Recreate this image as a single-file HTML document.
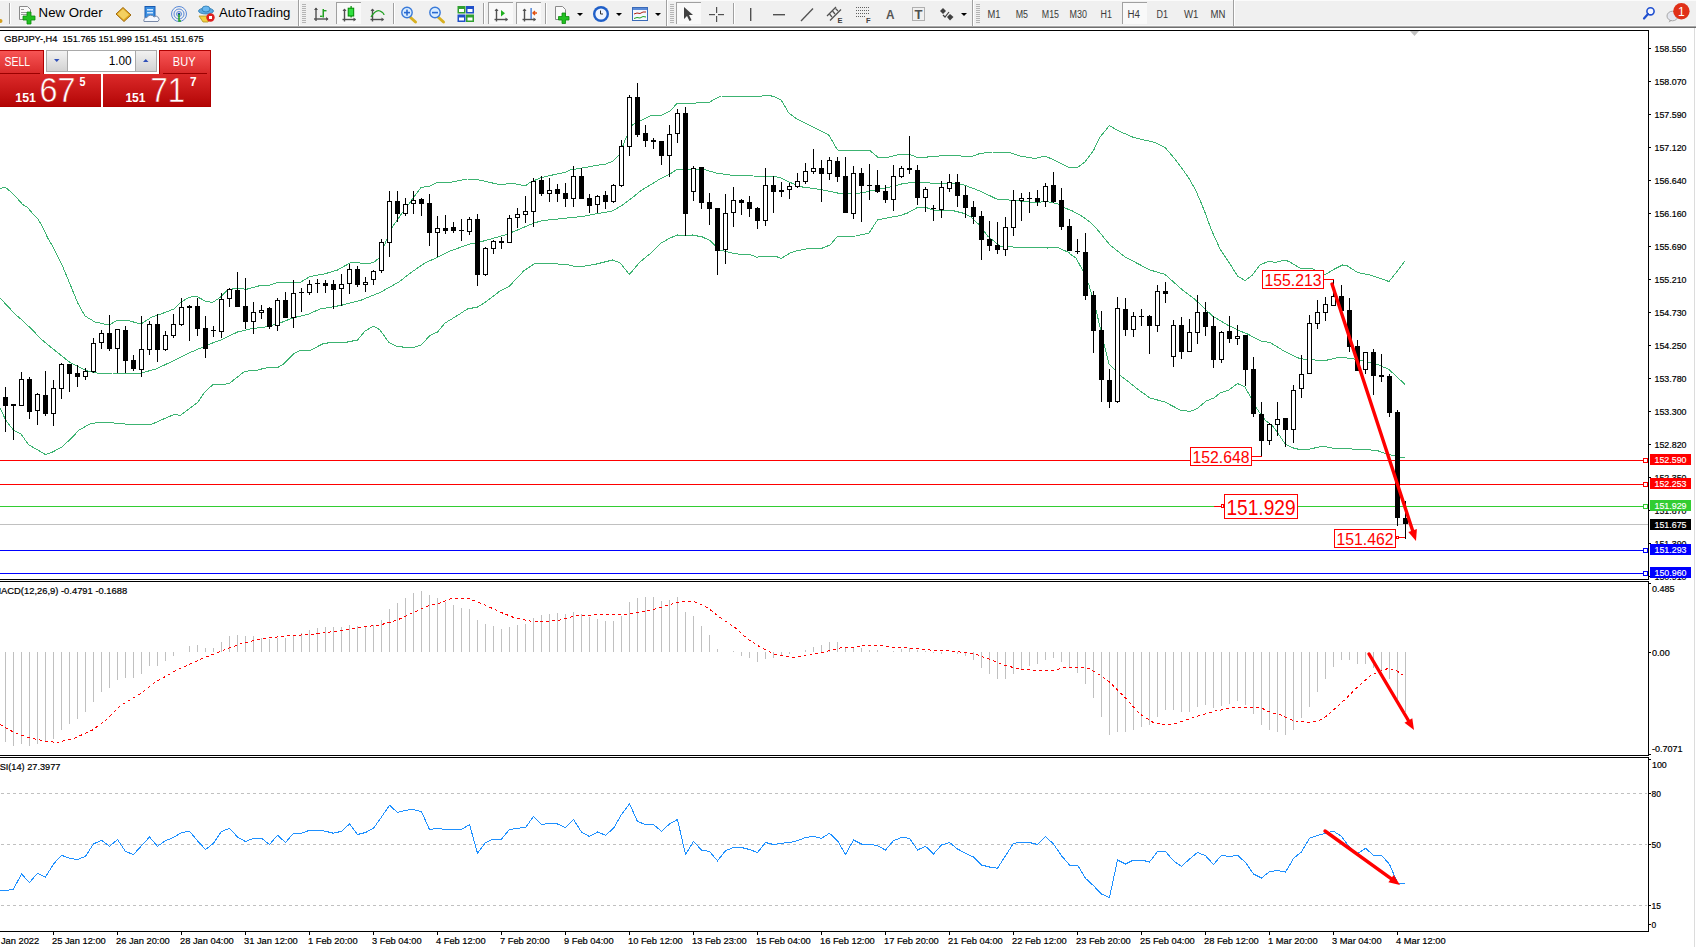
<!DOCTYPE html>
<html><head><meta charset="utf-8"><title>GBPJPY H4</title>
<style>
html,body{margin:0;padding:0;background:#fff;}
body{width:1696px;height:947px;overflow:hidden;}
svg{display:block;}
text{font-family:"Liberation Sans",sans-serif;}
</style></head><body>
<svg width="1696" height="947" viewBox="0 0 1696 947">
<rect x="0" y="0" width="1696" height="947" fill="#ffffff"/>
<rect x="0" y="0" width="1696" height="26" fill="#f0f0f0"/>
<rect x="0" y="0" width="1696" height="1" fill="#fbfbfb"/>
<rect x="0" y="26" width="1696" height="1" fill="#a8a8a8"/>
<rect x="0" y="27" width="1696" height="1" fill="#6e6e6e"/>
<rect x="1694" y="28" width="1" height="919" fill="#dcdcdc"/>
<rect x="0" y="25" width="1694" height="1" fill="#f7f7f7"/>
<rect x="0" y="30" width="1649" height="1" fill="#000"/>
<rect x="0" y="579" width="1649" height="1" fill="#000"/>
<rect x="1648" y="30" width="1" height="550" fill="#000"/>
<rect x="0" y="581" width="1649" height="1" fill="#000"/>
<rect x="0" y="755" width="1649" height="1" fill="#000"/>
<rect x="1648" y="581" width="1" height="175" fill="#000"/>
<rect x="0" y="757" width="1649" height="1" fill="#000"/>
<rect x="0" y="931" width="1649" height="1" fill="#000"/>
<rect x="1648" y="757" width="1" height="175" fill="#000"/>
<rect x="0" y="524" width="1648" height="1" fill="#c0c0c0"/>
<rect x="0" y="460" width="1643" height="1" fill="#ff0000"/>
<rect x="1643.5" y="458.5" width="4" height="4" fill="#fff" stroke="#ff0000" stroke-width="1"/>
<rect x="0" y="484" width="1643" height="1" fill="#ff0000"/>
<rect x="1643.5" y="482.5" width="4" height="4" fill="#fff" stroke="#ff0000" stroke-width="1"/>
<rect x="0" y="506" width="1643" height="1" fill="#32cd32"/>
<rect x="1643.5" y="504.5" width="4" height="4" fill="#fff" stroke="#32cd32" stroke-width="1"/>
<rect x="0" y="550" width="1643" height="1" fill="#0000ff"/>
<rect x="1643.5" y="548.5" width="4" height="4" fill="#fff" stroke="#0000ff" stroke-width="1"/>
<rect x="0" y="573" width="1643" height="1" fill="#0000ff"/>
<rect x="1643.5" y="571.5" width="4" height="4" fill="#fff" stroke="#0000ff" stroke-width="1"/>
<polyline points="0.00,188.50 5.00,187.00 9.40,190.60 17.00,198.00 22.50,204.40 27.50,207.50 33.00,214.00 38.00,219.00 42.50,227.00 47.50,237.50 52.50,246.00 62.50,266.00 70.00,284.00 77.50,302.50 85.00,316.00 95.00,322.00 109.00,325.00 117.50,320.00 126.00,320.00 141.00,324.00 151.00,317.50 161.00,314.00 174.00,309.00 181.00,302.00 189.00,297.50 196.00,296.00 205.00,301.00 212.50,302.50 220.00,297.50 227.50,290.00 237.50,288.00 246.00,289.40 260.00,285.60 270.00,285.00 277.50,282.50 287.50,283.00 300.00,282.50 310.00,276.50 325.00,273.75 337.50,270.00 350.00,263.00 357.50,262.50 365.00,264.00 373.75,262.50 380.00,257.00 384.00,246.00 392.00,227.50 402.50,212.50 412.50,199.00 421.00,187.50 430.00,186.00 436.00,183.00 449.00,182.50 467.50,179.00 472.50,179.00 482.50,180.60 492.50,183.00 499.00,184.40 514.00,183.50 525.00,186.00 530.00,182.50 540.00,178.00 555.00,174.40 565.00,172.50 570.00,170.00 582.50,168.00 595.00,165.60 606.00,164.00 613.00,161.00 620.00,154.00 625.00,140.00 632.50,125.00 640.00,121.00 650.00,116.00 661.00,115.40 670.00,111.00 677.50,103.00 696.00,103.00 710.00,102.00 717.50,97.50 721.00,96.00 740.00,96.50 760.00,96.50 765.00,95.00 770.00,95.60 775.00,97.00 781.00,99.75 788.75,113.00 797.50,119.40 815.00,128.00 828.75,135.00 837.50,150.00 850.00,151.00 865.00,150.00 870.00,150.60 877.50,157.00 888.75,157.00 900.00,154.40 910.00,154.40 916.00,157.00 927.50,157.00 945.00,155.50 952.00,155.00 970.00,157.00 980.00,153.50 992.50,152.00 1007.50,152.00 1020.00,156.00 1035.00,158.50 1045.00,156.00 1052.50,159.40 1060.00,163.00 1068.75,167.50 1077.50,167.50 1085.00,162.00 1093.75,150.00 1100.00,137.00 1109.40,125.60 1118.75,131.00 1133.75,137.50 1155.00,142.50 1165.00,147.50 1175.00,159.00 1182.50,169.00 1190.00,180.00 1196.00,191.00 1201.00,202.50 1206.00,215.00 1211.00,229.00 1220.00,249.00 1230.00,264.00 1237.50,276.00 1245.00,280.60 1252.50,275.00 1260.00,265.00 1269.00,261.00 1275.00,262.50 1285.00,260.00 1290.00,262.00 1301.00,268.75 1309.00,268.00 1314.00,269.40 1325.00,274.75 1335.00,268.75 1342.50,265.00 1347.50,266.00 1357.50,272.50 1370.00,275.00 1377.50,277.50 1389.00,281.50 1397.50,271.00 1405.00,261.00" fill="none" stroke="#3cb371" stroke-width="1" shape-rendering="crispEdges"/>
<polyline points="0.00,298.00 16.00,315.00 22.00,320.00 32.50,330.00 41.00,339.00 50.00,346.50 70.00,362.50 87.50,371.00 99.00,373.50 112.50,373.00 131.00,373.00 141.00,373.00 156.00,369.00 175.00,360.00 190.00,352.60 203.00,347.00 212.50,343.00 221.00,340.00 237.50,332.00 250.00,329.00 265.00,327.00 277.50,324.00 292.50,318.00 308.75,314.00 320.00,309.00 332.50,307.00 342.50,305.00 360.00,300.60 380.00,292.50 399.00,282.00 411.00,272.50 425.00,263.00 436.00,258.00 450.00,251.00 470.00,244.00 480.00,242.00 505.00,235.00 517.50,230.00 534.00,223.00 542.50,220.60 567.50,218.00 582.50,216.50 595.00,214.00 612.50,211.00 622.50,205.00 632.50,197.50 641.00,190.60 660.00,179.00 670.00,174.00 677.50,169.00 702.50,169.00 716.00,173.00 730.00,175.00 740.00,175.00 752.50,176.00 772.50,176.25 780.00,177.50 790.00,182.50 802.50,187.00 820.00,189.40 837.50,193.00 860.00,193.00 866.00,192.00 877.50,189.40 890.00,187.00 902.50,183.75 915.00,182.00 930.00,183.00 952.00,183.00 962.50,184.40 980.00,191.00 997.50,199.40 1009.00,200.00 1025.00,201.50 1037.50,203.00 1045.00,201.00 1060.00,204.40 1063.75,207.50 1072.50,211.00 1081.00,215.60 1090.00,222.00 1095.60,227.50 1110.00,245.00 1125.00,257.00 1150.00,270.00 1165.00,274.40 1182.50,290.00 1195.00,299.40 1212.50,316.00 1227.50,325.00 1240.00,331.00 1247.50,334.00 1261.00,341.00 1270.00,342.50 1284.00,351.00 1300.00,358.75 1315.00,360.00 1327.50,360.00 1340.00,357.00 1352.50,358.75 1365.00,361.50 1377.50,364.40 1389.00,369.50 1396.00,376.00 1405.00,384.40" fill="none" stroke="#3cb371" stroke-width="1" shape-rendering="crispEdges"/>
<polyline points="0.00,408.00 5.70,420.00 13.30,430.00 21.00,434.00 28.50,444.60 36.00,449.00 45.60,454.60 53.00,451.80 62.00,447.00 73.00,436.60 79.00,430.00 90.00,424.00 98.00,422.30 106.00,422.30 125.00,424.00 150.00,425.00 175.00,414.00 180.00,415.60 197.50,402.50 200.00,399.00 204.30,392.50 209.50,387.70 213.30,384.40 224.40,384.40 229.60,383.30 235.40,378.60 243.80,372.10 249.70,370.40 256.80,370.40 263.30,368.50 267.80,367.60 277.50,367.60 284.00,363.70 293.80,353.60 301.00,350.00 309.00,351.00 322.50,344.00 330.00,342.50 345.00,342.50 357.50,340.00 365.00,331.00 373.75,326.00 380.00,330.00 389.00,342.50 396.00,346.00 402.50,347.00 415.00,347.00 421.00,345.00 430.00,335.60 437.50,332.00 445.00,323.00 455.00,317.00 467.50,309.00 477.50,307.00 485.00,302.50 500.00,291.00 509.00,286.50 524.00,270.60 534.00,264.00 546.00,263.50 567.50,264.40 572.50,266.00 582.50,266.50 595.00,264.40 612.50,260.00 620.00,262.75 629.40,274.40 640.00,262.00 650.00,253.75 660.00,243.75 670.00,238.00 677.50,235.00 685.00,236.00 692.50,235.00 702.50,237.00 710.00,240.60 715.00,245.60 720.00,250.00 731.00,252.75 740.00,254.40 750.00,254.40 757.00,257.50 761.00,256.00 775.00,256.00 781.00,258.50 791.00,252.50 796.00,251.00 811.00,248.00 822.50,248.00 830.00,245.00 837.50,236.50 856.00,236.00 869.00,233.00 877.50,220.00 884.00,218.50 900.00,215.60 907.50,213.00 917.50,207.50 925.00,207.00 932.50,210.00 952.00,210.40 962.50,213.00 971.00,217.00 980.00,225.60 987.50,236.00 1000.00,246.00 1012.50,247.00 1032.50,247.50 1047.50,248.00 1057.50,247.50 1069.00,252.50 1070.00,254.00 1076.00,258.00 1082.50,270.00 1089.00,285.00 1096.00,310.00 1101.00,331.00 1104.00,344.00 1109.00,364.00 1115.00,370.00 1121.00,376.00 1127.50,381.00 1137.50,389.00 1150.00,398.00 1165.00,402.00 1180.00,410.00 1190.00,411.50 1197.50,408.50 1206.00,401.00 1214.00,398.00 1220.00,393.00 1229.00,390.00 1237.50,383.50 1245.00,387.00 1250.00,396.00 1256.00,407.50 1265.00,420.00 1272.50,426.00 1277.50,432.50 1285.00,443.75 1292.50,447.75 1299.00,449.40 1310.00,449.00 1322.50,446.25 1335.00,448.50 1365.00,449.40 1377.50,450.60 1386.00,453.75 1395.00,456.00 1405.00,458.00" fill="none" stroke="#3cb371" stroke-width="1" shape-rendering="crispEdges"/>
<g fill="#000" shape-rendering="crispEdges"><rect x="5" y="387" width="1" height="45"/><rect x="3" y="397" width="5" height="9"/><rect x="13" y="404" width="1" height="36"/><rect x="11" y="404" width="5" height="2"/><rect x="21" y="372" width="1" height="34"/><rect x="19" y="379" width="5" height="27"/><rect x="20" y="380" width="3" height="25" fill="#fff"/><rect x="29" y="377" width="1" height="42"/><rect x="27" y="379" width="5" height="33"/><rect x="37" y="393" width="1" height="32"/><rect x="35" y="394" width="5" height="17"/><rect x="36" y="395" width="3" height="15" fill="#fff"/><rect x="45" y="371" width="1" height="45"/><rect x="43" y="395" width="5" height="19"/><rect x="53" y="380" width="1" height="46"/><rect x="51" y="388" width="5" height="26"/><rect x="52" y="389" width="3" height="24" fill="#fff"/><rect x="61" y="363" width="1" height="36"/><rect x="59" y="364" width="5" height="25"/><rect x="60" y="365" width="3" height="23" fill="#fff"/><rect x="69" y="364" width="1" height="28"/><rect x="67" y="364" width="5" height="10"/><rect x="77" y="365" width="1" height="22"/><rect x="75" y="373" width="5" height="4"/><rect x="85" y="368" width="1" height="12"/><rect x="83" y="371" width="5" height="6"/><rect x="84" y="372" width="3" height="4" fill="#fff"/><rect x="93" y="338" width="1" height="35"/><rect x="91" y="343" width="5" height="29"/><rect x="92" y="344" width="3" height="27" fill="#fff"/><rect x="101" y="330" width="1" height="19"/><rect x="99" y="333" width="5" height="10"/><rect x="100" y="334" width="3" height="8" fill="#fff"/><rect x="109" y="315" width="1" height="36"/><rect x="107" y="333" width="5" height="16"/><rect x="117" y="329" width="1" height="44"/><rect x="115" y="329" width="5" height="20"/><rect x="116" y="330" width="3" height="18" fill="#fff"/><rect x="125" y="326" width="1" height="47"/><rect x="123" y="330" width="5" height="31"/><rect x="133" y="355" width="1" height="16"/><rect x="131" y="360" width="5" height="9"/><rect x="141" y="316" width="1" height="61"/><rect x="139" y="349" width="5" height="21"/><rect x="140" y="350" width="3" height="19" fill="#fff"/><rect x="149" y="321" width="1" height="34"/><rect x="147" y="324" width="5" height="26"/><rect x="148" y="325" width="3" height="24" fill="#fff"/><rect x="157" y="314" width="1" height="48"/><rect x="155" y="324" width="5" height="26"/><rect x="165" y="331" width="1" height="20"/><rect x="163" y="335" width="5" height="15"/><rect x="164" y="336" width="3" height="13" fill="#fff"/><rect x="173" y="314" width="1" height="24"/><rect x="171" y="324" width="5" height="12"/><rect x="172" y="325" width="3" height="10" fill="#fff"/><rect x="181" y="298" width="1" height="28"/><rect x="179" y="307" width="5" height="18"/><rect x="180" y="308" width="3" height="16" fill="#fff"/><rect x="189" y="305" width="1" height="36"/><rect x="187" y="306" width="5" height="2"/><rect x="197" y="298" width="1" height="38"/><rect x="195" y="306" width="5" height="23"/><rect x="205" y="316" width="1" height="42"/><rect x="203" y="328" width="5" height="21"/><rect x="213" y="326" width="1" height="11"/><rect x="211" y="330" width="5" height="1"/><rect x="221" y="293" width="1" height="45"/><rect x="219" y="299" width="5" height="33"/><rect x="220" y="300" width="3" height="31" fill="#fff"/><rect x="229" y="288" width="1" height="19"/><rect x="227" y="289" width="5" height="10"/><rect x="228" y="290" width="3" height="8" fill="#fff"/><rect x="237" y="272" width="1" height="35"/><rect x="235" y="290" width="5" height="17"/><rect x="245" y="278" width="1" height="51"/><rect x="243" y="306" width="5" height="16"/><rect x="253" y="302" width="1" height="32"/><rect x="251" y="312" width="5" height="10"/><rect x="252" y="313" width="3" height="8" fill="#fff"/><rect x="261" y="305" width="1" height="14"/><rect x="259" y="310" width="5" height="3"/><rect x="260" y="311" width="3" height="1" fill="#fff"/><rect x="269" y="307" width="1" height="22"/><rect x="267" y="308" width="5" height="19"/><rect x="277" y="298" width="1" height="33"/><rect x="275" y="300" width="5" height="26"/><rect x="276" y="301" width="3" height="24" fill="#fff"/><rect x="285" y="292" width="1" height="26"/><rect x="283" y="300" width="5" height="18"/><rect x="293" y="280" width="1" height="48"/><rect x="291" y="293" width="5" height="25"/><rect x="292" y="294" width="3" height="23" fill="#fff"/><rect x="301" y="288" width="1" height="24"/><rect x="299" y="292" width="5" height="1"/><rect x="309" y="280" width="1" height="15"/><rect x="307" y="284" width="5" height="9"/><rect x="308" y="285" width="3" height="7" fill="#fff"/><rect x="317" y="279" width="1" height="14"/><rect x="315" y="283" width="5" height="1"/><rect x="325" y="280" width="1" height="13"/><rect x="323" y="283" width="5" height="3"/><rect x="333" y="280" width="1" height="29"/><rect x="331" y="284" width="5" height="6"/><rect x="341" y="274" width="1" height="32"/><rect x="339" y="284" width="5" height="5"/><rect x="340" y="285" width="3" height="3" fill="#fff"/><rect x="349" y="264" width="1" height="30"/><rect x="347" y="269" width="5" height="15"/><rect x="348" y="270" width="3" height="13" fill="#fff"/><rect x="357" y="266" width="1" height="21"/><rect x="355" y="269" width="5" height="16"/><rect x="365" y="277" width="1" height="15"/><rect x="363" y="282" width="5" height="3"/><rect x="364" y="283" width="3" height="1" fill="#fff"/><rect x="373" y="270" width="1" height="15"/><rect x="371" y="271" width="5" height="9"/><rect x="372" y="272" width="3" height="7" fill="#fff"/><rect x="381" y="239" width="1" height="34"/><rect x="379" y="242" width="5" height="29"/><rect x="380" y="243" width="3" height="27" fill="#fff"/><rect x="389" y="191" width="1" height="66"/><rect x="387" y="201" width="5" height="42"/><rect x="388" y="202" width="3" height="40" fill="#fff"/><rect x="397" y="191" width="1" height="31"/><rect x="395" y="201" width="5" height="13"/><rect x="405" y="198" width="1" height="18"/><rect x="403" y="204" width="5" height="10"/><rect x="404" y="205" width="3" height="8" fill="#fff"/><rect x="413" y="191" width="1" height="23"/><rect x="411" y="200" width="5" height="4"/><rect x="412" y="201" width="3" height="2" fill="#fff"/><rect x="421" y="198" width="1" height="18"/><rect x="419" y="199" width="5" height="5"/><rect x="429" y="194" width="1" height="52"/><rect x="427" y="203" width="5" height="30"/><rect x="437" y="216" width="1" height="41"/><rect x="435" y="228" width="5" height="5"/><rect x="436" y="229" width="3" height="3" fill="#fff"/><rect x="445" y="215" width="1" height="19"/><rect x="443" y="228" width="5" height="3"/><rect x="453" y="222" width="1" height="11"/><rect x="451" y="227" width="5" height="4"/><rect x="461" y="219" width="1" height="22"/><rect x="459" y="230" width="5" height="1"/><rect x="469" y="217" width="1" height="18"/><rect x="467" y="219" width="5" height="13"/><rect x="468" y="220" width="3" height="11" fill="#fff"/><rect x="477" y="214" width="1" height="72"/><rect x="475" y="219" width="5" height="56"/><rect x="485" y="247" width="1" height="29"/><rect x="483" y="248" width="5" height="27"/><rect x="484" y="249" width="3" height="25" fill="#fff"/><rect x="493" y="240" width="1" height="14"/><rect x="491" y="241" width="5" height="8"/><rect x="492" y="242" width="3" height="6" fill="#fff"/><rect x="501" y="237" width="1" height="12"/><rect x="499" y="241" width="5" height="2"/><rect x="509" y="215" width="1" height="28"/><rect x="507" y="218" width="5" height="25"/><rect x="508" y="219" width="3" height="23" fill="#fff"/><rect x="517" y="208" width="1" height="20"/><rect x="515" y="214" width="5" height="4"/><rect x="516" y="215" width="3" height="2" fill="#fff"/><rect x="525" y="196" width="1" height="27"/><rect x="523" y="211" width="5" height="4"/><rect x="524" y="212" width="3" height="2" fill="#fff"/><rect x="533" y="178" width="1" height="49"/><rect x="531" y="181" width="5" height="31"/><rect x="532" y="182" width="3" height="29" fill="#fff"/><rect x="541" y="176" width="1" height="20"/><rect x="539" y="180" width="5" height="14"/><rect x="549" y="178" width="1" height="24"/><rect x="547" y="190" width="5" height="4"/><rect x="548" y="191" width="3" height="2" fill="#fff"/><rect x="557" y="184" width="1" height="18"/><rect x="555" y="189" width="5" height="5"/><rect x="565" y="183" width="1" height="24"/><rect x="563" y="193" width="5" height="6"/><rect x="573" y="166" width="1" height="41"/><rect x="571" y="176" width="5" height="23"/><rect x="572" y="177" width="3" height="21" fill="#fff"/><rect x="581" y="168" width="1" height="31"/><rect x="579" y="176" width="5" height="23"/><rect x="589" y="194" width="1" height="19"/><rect x="587" y="198" width="5" height="8"/><rect x="597" y="195" width="1" height="18"/><rect x="595" y="196" width="5" height="9"/><rect x="596" y="197" width="3" height="7" fill="#fff"/><rect x="605" y="191" width="1" height="18"/><rect x="603" y="195" width="5" height="7"/><rect x="613" y="184" width="1" height="19"/><rect x="611" y="185" width="5" height="17"/><rect x="612" y="186" width="3" height="15" fill="#fff"/><rect x="621" y="140" width="1" height="47"/><rect x="619" y="146" width="5" height="40"/><rect x="620" y="147" width="3" height="38" fill="#fff"/><rect x="629" y="95" width="1" height="61"/><rect x="627" y="97" width="5" height="50"/><rect x="628" y="98" width="3" height="48" fill="#fff"/><rect x="637" y="83" width="1" height="54"/><rect x="635" y="97" width="5" height="38"/><rect x="645" y="125" width="1" height="22"/><rect x="643" y="133" width="5" height="8"/><rect x="653" y="138" width="1" height="11"/><rect x="651" y="140" width="5" height="2"/><rect x="661" y="141" width="1" height="24"/><rect x="659" y="141" width="5" height="15"/><rect x="669" y="125" width="1" height="52"/><rect x="667" y="134" width="5" height="22"/><rect x="668" y="135" width="3" height="20" fill="#fff"/><rect x="677" y="109" width="1" height="34"/><rect x="675" y="113" width="5" height="21"/><rect x="676" y="114" width="3" height="19" fill="#fff"/><rect x="685" y="107" width="1" height="129"/><rect x="683" y="113" width="5" height="101"/><rect x="693" y="166" width="1" height="35"/><rect x="691" y="168" width="5" height="24"/><rect x="692" y="169" width="3" height="22" fill="#fff"/><rect x="701" y="167" width="1" height="42"/><rect x="699" y="167" width="5" height="36"/><rect x="709" y="193" width="1" height="32"/><rect x="707" y="202" width="5" height="7"/><rect x="717" y="208" width="1" height="67"/><rect x="715" y="208" width="5" height="43"/><rect x="725" y="194" width="1" height="70"/><rect x="723" y="213" width="5" height="37"/><rect x="724" y="214" width="3" height="35" fill="#fff"/><rect x="733" y="187" width="1" height="40"/><rect x="731" y="200" width="5" height="13"/><rect x="732" y="201" width="3" height="11" fill="#fff"/><rect x="741" y="199" width="1" height="16"/><rect x="739" y="200" width="5" height="3"/><rect x="749" y="196" width="1" height="21"/><rect x="747" y="202" width="5" height="7"/><rect x="757" y="207" width="1" height="22"/><rect x="755" y="208" width="5" height="13"/><rect x="765" y="168" width="1" height="58"/><rect x="763" y="185" width="5" height="36"/><rect x="764" y="186" width="3" height="34" fill="#fff"/><rect x="773" y="176" width="1" height="37"/><rect x="771" y="185" width="5" height="7"/><rect x="781" y="182" width="1" height="15"/><rect x="779" y="190" width="5" height="2"/><rect x="789" y="183" width="1" height="16"/><rect x="787" y="186" width="5" height="4"/><rect x="788" y="187" width="3" height="2" fill="#fff"/><rect x="797" y="173" width="1" height="15"/><rect x="795" y="181" width="5" height="6"/><rect x="796" y="182" width="3" height="4" fill="#fff"/><rect x="805" y="163" width="1" height="21"/><rect x="803" y="171" width="5" height="11"/><rect x="804" y="172" width="3" height="9" fill="#fff"/><rect x="813" y="149" width="1" height="25"/><rect x="811" y="168" width="5" height="4"/><rect x="812" y="169" width="3" height="2" fill="#fff"/><rect x="821" y="160" width="1" height="42"/><rect x="819" y="168" width="5" height="6"/><rect x="829" y="157" width="1" height="23"/><rect x="827" y="160" width="5" height="14"/><rect x="828" y="161" width="3" height="12" fill="#fff"/><rect x="837" y="157" width="1" height="25"/><rect x="835" y="161" width="5" height="16"/><rect x="845" y="157" width="1" height="56"/><rect x="843" y="176" width="5" height="37"/><rect x="853" y="166" width="1" height="53"/><rect x="851" y="173" width="5" height="41"/><rect x="852" y="174" width="3" height="39" fill="#fff"/><rect x="861" y="168" width="1" height="54"/><rect x="859" y="173" width="5" height="13"/><rect x="869" y="164" width="1" height="36"/><rect x="867" y="185" width="5" height="1"/><rect x="877" y="170" width="1" height="23"/><rect x="875" y="185" width="5" height="7"/><rect x="885" y="185" width="1" height="18"/><rect x="883" y="191" width="5" height="9"/><rect x="893" y="165" width="1" height="46"/><rect x="891" y="176" width="5" height="24"/><rect x="892" y="177" width="3" height="22" fill="#fff"/><rect x="901" y="166" width="1" height="12"/><rect x="899" y="168" width="5" height="9"/><rect x="900" y="169" width="3" height="7" fill="#fff"/><rect x="909" y="136" width="1" height="38"/><rect x="907" y="168" width="5" height="2"/><rect x="917" y="165" width="1" height="40"/><rect x="915" y="170" width="5" height="28"/><rect x="925" y="187" width="1" height="25"/><rect x="923" y="189" width="5" height="9"/><rect x="924" y="190" width="3" height="7" fill="#fff"/><rect x="933" y="205" width="1" height="16"/><rect x="931" y="208" width="5" height="1"/><rect x="941" y="181" width="1" height="37"/><rect x="939" y="187" width="5" height="23"/><rect x="940" y="188" width="3" height="21" fill="#fff"/><rect x="949" y="174" width="1" height="18"/><rect x="947" y="182" width="5" height="7"/><rect x="948" y="183" width="3" height="5" fill="#fff"/><rect x="957" y="174" width="1" height="33"/><rect x="955" y="182" width="5" height="14"/><rect x="965" y="186" width="1" height="32"/><rect x="963" y="195" width="5" height="13"/><rect x="973" y="201" width="1" height="23"/><rect x="971" y="207" width="5" height="10"/><rect x="981" y="211" width="1" height="49"/><rect x="979" y="216" width="5" height="24"/><rect x="989" y="221" width="1" height="30"/><rect x="987" y="239" width="5" height="7"/><rect x="997" y="222" width="1" height="32"/><rect x="995" y="245" width="5" height="5"/><rect x="1005" y="217" width="1" height="39"/><rect x="1003" y="227" width="5" height="23"/><rect x="1004" y="228" width="3" height="21" fill="#fff"/><rect x="1013" y="190" width="1" height="46"/><rect x="1011" y="200" width="5" height="28"/><rect x="1012" y="201" width="3" height="26" fill="#fff"/><rect x="1021" y="193" width="1" height="28"/><rect x="1019" y="198" width="5" height="3"/><rect x="1020" y="199" width="3" height="1" fill="#fff"/><rect x="1029" y="192" width="1" height="21"/><rect x="1027" y="198" width="5" height="1"/><rect x="1037" y="190" width="1" height="16"/><rect x="1035" y="198" width="5" height="4"/><rect x="1045" y="183" width="1" height="24"/><rect x="1043" y="186" width="5" height="16"/><rect x="1044" y="187" width="3" height="14" fill="#fff"/><rect x="1053" y="172" width="1" height="31"/><rect x="1051" y="185" width="5" height="17"/><rect x="1061" y="188" width="1" height="42"/><rect x="1059" y="200" width="5" height="27"/><rect x="1069" y="219" width="1" height="32"/><rect x="1067" y="226" width="5" height="25"/><rect x="1077" y="239" width="1" height="15"/><rect x="1075" y="251" width="5" height="1"/><rect x="1085" y="233" width="1" height="67"/><rect x="1083" y="252" width="5" height="44"/><rect x="1093" y="291" width="1" height="62"/><rect x="1091" y="295" width="5" height="36"/><rect x="1101" y="311" width="1" height="91"/><rect x="1099" y="330" width="5" height="50"/><rect x="1109" y="369" width="1" height="39"/><rect x="1107" y="380" width="5" height="22"/><rect x="1117" y="297" width="1" height="106"/><rect x="1115" y="308" width="5" height="94"/><rect x="1116" y="309" width="3" height="92" fill="#fff"/><rect x="1125" y="298" width="1" height="38"/><rect x="1123" y="309" width="5" height="21"/><rect x="1133" y="312" width="1" height="25"/><rect x="1131" y="316" width="5" height="14"/><rect x="1132" y="317" width="3" height="12" fill="#fff"/><rect x="1141" y="309" width="1" height="17"/><rect x="1139" y="316" width="5" height="1"/><rect x="1149" y="315" width="1" height="39"/><rect x="1147" y="316" width="5" height="10"/><rect x="1157" y="285" width="1" height="47"/><rect x="1155" y="291" width="5" height="35"/><rect x="1156" y="292" width="3" height="33" fill="#fff"/><rect x="1165" y="282" width="1" height="21"/><rect x="1163" y="291" width="5" height="3"/><rect x="1173" y="320" width="1" height="47"/><rect x="1171" y="325" width="5" height="32"/><rect x="1172" y="326" width="3" height="30" fill="#fff"/><rect x="1181" y="317" width="1" height="42"/><rect x="1179" y="325" width="5" height="27"/><rect x="1189" y="319" width="1" height="33"/><rect x="1187" y="332" width="5" height="20"/><rect x="1188" y="333" width="3" height="18" fill="#fff"/><rect x="1197" y="295" width="1" height="49"/><rect x="1195" y="312" width="5" height="21"/><rect x="1196" y="313" width="3" height="19" fill="#fff"/><rect x="1205" y="302" width="1" height="34"/><rect x="1203" y="312" width="5" height="15"/><rect x="1213" y="316" width="1" height="52"/><rect x="1211" y="326" width="5" height="34"/><rect x="1221" y="331" width="1" height="32"/><rect x="1219" y="332" width="5" height="28"/><rect x="1220" y="333" width="3" height="26" fill="#fff"/><rect x="1229" y="316" width="1" height="27"/><rect x="1227" y="331" width="5" height="8"/><rect x="1237" y="325" width="1" height="20"/><rect x="1235" y="336" width="5" height="3"/><rect x="1236" y="337" width="3" height="1" fill="#fff"/><rect x="1245" y="335" width="1" height="51"/><rect x="1243" y="335" width="5" height="35"/><rect x="1253" y="357" width="1" height="60"/><rect x="1251" y="369" width="5" height="45"/><rect x="1261" y="402" width="1" height="54"/><rect x="1259" y="414" width="5" height="27"/><rect x="1269" y="423" width="1" height="22"/><rect x="1267" y="424" width="5" height="17"/><rect x="1268" y="425" width="3" height="15" fill="#fff"/><rect x="1277" y="402" width="1" height="34"/><rect x="1275" y="419" width="5" height="6"/><rect x="1276" y="420" width="3" height="4" fill="#fff"/><rect x="1285" y="418" width="1" height="29"/><rect x="1283" y="418" width="5" height="12"/><rect x="1293" y="385" width="1" height="58"/><rect x="1291" y="390" width="5" height="40"/><rect x="1292" y="391" width="3" height="38" fill="#fff"/><rect x="1301" y="355" width="1" height="43"/><rect x="1299" y="374" width="5" height="15"/><rect x="1300" y="375" width="3" height="13" fill="#fff"/><rect x="1309" y="315" width="1" height="59"/><rect x="1307" y="323" width="5" height="51"/><rect x="1308" y="324" width="3" height="49" fill="#fff"/><rect x="1317" y="300" width="1" height="29"/><rect x="1315" y="312" width="5" height="12"/><rect x="1316" y="313" width="3" height="10" fill="#fff"/><rect x="1325" y="297" width="1" height="24"/><rect x="1323" y="304" width="5" height="9"/><rect x="1324" y="305" width="3" height="7" fill="#fff"/><rect x="1333" y="279" width="1" height="27"/><rect x="1331" y="296" width="5" height="10"/><rect x="1332" y="297" width="3" height="8" fill="#fff"/><rect x="1341" y="285" width="1" height="26"/><rect x="1339" y="296" width="5" height="15"/><rect x="1349" y="298" width="1" height="54"/><rect x="1347" y="310" width="5" height="37"/><rect x="1357" y="340" width="1" height="31"/><rect x="1355" y="346" width="5" height="25"/><rect x="1365" y="352" width="1" height="22"/><rect x="1363" y="352" width="5" height="18"/><rect x="1364" y="353" width="3" height="16" fill="#fff"/><rect x="1373" y="349" width="1" height="46"/><rect x="1371" y="352" width="5" height="24"/><rect x="1381" y="354" width="1" height="28"/><rect x="1379" y="375" width="5" height="2"/><rect x="1389" y="374" width="1" height="43"/><rect x="1387" y="376" width="5" height="37"/><rect x="1397" y="410" width="1" height="116"/><rect x="1395" y="412" width="5" height="106"/><rect x="1405" y="501" width="1" height="38"/><rect x="1403" y="518" width="5" height="6"/></g>
<g fill="#c0c0c0" shape-rendering="crispEdges"><rect x="5" y="652" width="1" height="90"/><rect x="13" y="652" width="1" height="94"/><rect x="21" y="652" width="1" height="92"/><rect x="29" y="652" width="1" height="94"/><rect x="37" y="652" width="1" height="92"/><rect x="45" y="652" width="1" height="90"/><rect x="53" y="652" width="1" height="87"/><rect x="61" y="652" width="1" height="78"/><rect x="69" y="652" width="1" height="72"/><rect x="77" y="652" width="1" height="67"/><rect x="85" y="652" width="1" height="60"/><rect x="93" y="652" width="1" height="50"/><rect x="101" y="652" width="1" height="40"/><rect x="109" y="652" width="1" height="36"/><rect x="117" y="652" width="1" height="28"/><rect x="125" y="652" width="1" height="26"/><rect x="133" y="652" width="1" height="26"/><rect x="141" y="652" width="1" height="22"/><rect x="149" y="652" width="1" height="14"/><rect x="157" y="652" width="1" height="14"/><rect x="165" y="652" width="1" height="9"/><rect x="173" y="652" width="1" height="4"/><rect x="189" y="646" width="1" height="6"/><rect x="197" y="645" width="1" height="7"/><rect x="205" y="648" width="1" height="4"/><rect x="213" y="648" width="1" height="4"/><rect x="221" y="642" width="1" height="10"/><rect x="229" y="636" width="1" height="16"/><rect x="237" y="635" width="1" height="17"/><rect x="245" y="636" width="1" height="16"/><rect x="253" y="636" width="1" height="16"/><rect x="261" y="638" width="1" height="14"/><rect x="269" y="639" width="1" height="13"/><rect x="277" y="638" width="1" height="14"/><rect x="285" y="638" width="1" height="14"/><rect x="293" y="635" width="1" height="17"/><rect x="301" y="633" width="1" height="19"/><rect x="309" y="630" width="1" height="22"/><rect x="317" y="628" width="1" height="24"/><rect x="325" y="627" width="1" height="25"/><rect x="333" y="627" width="1" height="25"/><rect x="341" y="627" width="1" height="25"/><rect x="349" y="625" width="1" height="27"/><rect x="357" y="626" width="1" height="26"/><rect x="365" y="626" width="1" height="26"/><rect x="373" y="625" width="1" height="27"/><rect x="381" y="620" width="1" height="32"/><rect x="389" y="609" width="1" height="43"/><rect x="397" y="603" width="1" height="49"/><rect x="405" y="598" width="1" height="54"/><rect x="413" y="593" width="1" height="59"/><rect x="421" y="591" width="1" height="61"/><rect x="429" y="595" width="1" height="57"/><rect x="437" y="598" width="1" height="54"/><rect x="445" y="602" width="1" height="50"/><rect x="453" y="605" width="1" height="47"/><rect x="461" y="608" width="1" height="44"/><rect x="469" y="609" width="1" height="43"/><rect x="477" y="620" width="1" height="32"/><rect x="485" y="624" width="1" height="28"/><rect x="493" y="626" width="1" height="26"/><rect x="501" y="629" width="1" height="23"/><rect x="509" y="627" width="1" height="25"/><rect x="517" y="625" width="1" height="27"/><rect x="525" y="624" width="1" height="28"/><rect x="533" y="618" width="1" height="34"/><rect x="541" y="615" width="1" height="37"/><rect x="549" y="614" width="1" height="38"/><rect x="557" y="613" width="1" height="39"/><rect x="565" y="614" width="1" height="38"/><rect x="573" y="612" width="1" height="40"/><rect x="581" y="614" width="1" height="38"/><rect x="589" y="617" width="1" height="35"/><rect x="597" y="619" width="1" height="33"/><rect x="605" y="621" width="1" height="31"/><rect x="613" y="621" width="1" height="31"/><rect x="621" y="616" width="1" height="36"/><rect x="629" y="602" width="1" height="50"/><rect x="637" y="598" width="1" height="54"/><rect x="645" y="597" width="1" height="55"/><rect x="653" y="597" width="1" height="55"/><rect x="661" y="601" width="1" height="51"/><rect x="669" y="600" width="1" height="52"/><rect x="677" y="597" width="1" height="55"/><rect x="685" y="612" width="1" height="40"/><rect x="693" y="616" width="1" height="36"/><rect x="701" y="626" width="1" height="26"/><rect x="709" y="635" width="1" height="17"/><rect x="717" y="649" width="1" height="3"/><rect x="733" y="651" width="1" height="1"/><rect x="741" y="652" width="1" height="4"/><rect x="749" y="652" width="1" height="6"/><rect x="757" y="652" width="1" height="10"/><rect x="765" y="652" width="1" height="7"/><rect x="773" y="652" width="1" height="6"/><rect x="781" y="652" width="1" height="4"/><rect x="789" y="652" width="1" height="2"/><rect x="805" y="650" width="1" height="2"/><rect x="813" y="647" width="1" height="5"/><rect x="821" y="645" width="1" height="7"/><rect x="829" y="642" width="1" height="10"/><rect x="837" y="642" width="1" height="10"/><rect x="845" y="648" width="1" height="4"/><rect x="853" y="648" width="1" height="4"/><rect x="861" y="648" width="1" height="4"/><rect x="869" y="650" width="1" height="2"/><rect x="877" y="650" width="1" height="2"/><rect x="893" y="651" width="1" height="1"/><rect x="901" y="649" width="1" height="3"/><rect x="909" y="648" width="1" height="4"/><rect x="917" y="650" width="1" height="2"/><rect x="925" y="651" width="1" height="1"/><rect x="933" y="652" width="1" height="1"/><rect x="941" y="652" width="1" height="2"/><rect x="957" y="652" width="1" height="2"/><rect x="965" y="652" width="1" height="4"/><rect x="973" y="652" width="1" height="8"/><rect x="981" y="652" width="1" height="16"/><rect x="989" y="652" width="1" height="22"/><rect x="997" y="652" width="1" height="27"/><rect x="1005" y="652" width="1" height="27"/><rect x="1013" y="652" width="1" height="22"/><rect x="1021" y="652" width="1" height="17"/><rect x="1029" y="652" width="1" height="14"/><rect x="1037" y="652" width="1" height="12"/><rect x="1045" y="652" width="1" height="8"/><rect x="1053" y="652" width="1" height="6"/><rect x="1061" y="652" width="1" height="10"/><rect x="1069" y="652" width="1" height="15"/><rect x="1077" y="652" width="1" height="21"/><rect x="1085" y="652" width="1" height="32"/><rect x="1093" y="652" width="1" height="46"/><rect x="1101" y="652" width="1" height="65"/><rect x="1109" y="652" width="1" height="83"/><rect x="1117" y="652" width="1" height="80"/><rect x="1125" y="652" width="1" height="80"/><rect x="1133" y="652" width="1" height="78"/><rect x="1141" y="652" width="1" height="75"/><rect x="1149" y="652" width="1" height="73"/><rect x="1157" y="652" width="1" height="65"/><rect x="1165" y="652" width="1" height="58"/><rect x="1173" y="652" width="1" height="58"/><rect x="1181" y="652" width="1" height="60"/><rect x="1189" y="652" width="1" height="60"/><rect x="1197" y="652" width="1" height="55"/><rect x="1205" y="652" width="1" height="53"/><rect x="1213" y="652" width="1" height="56"/><rect x="1221" y="652" width="1" height="54"/><rect x="1229" y="652" width="1" height="52"/><rect x="1237" y="652" width="1" height="49"/><rect x="1245" y="652" width="1" height="53"/><rect x="1253" y="652" width="1" height="62"/><rect x="1261" y="652" width="1" height="73"/><rect x="1269" y="652" width="1" height="78"/><rect x="1277" y="652" width="1" height="80"/><rect x="1285" y="652" width="1" height="83"/><rect x="1293" y="652" width="1" height="78"/><rect x="1301" y="652" width="1" height="66"/><rect x="1309" y="652" width="1" height="55"/><rect x="1317" y="652" width="1" height="40"/><rect x="1325" y="652" width="1" height="27"/><rect x="1333" y="652" width="1" height="15"/><rect x="1341" y="652" width="1" height="8"/><rect x="1349" y="652" width="1" height="8"/><rect x="1357" y="652" width="1" height="12"/><rect x="1365" y="652" width="1" height="12"/><rect x="1373" y="652" width="1" height="16"/><rect x="1381" y="652" width="1" height="19"/><rect x="1389" y="652" width="1" height="27"/><rect x="1397" y="652" width="1" height="47"/><rect x="1405" y="652" width="1" height="60"/></g>
<polyline points="0.00,724.50 15.00,733.00 30.00,738.00 45.00,741.00 57.50,742.50 75.00,738.00 92.50,730.00 105.00,721.00 120.00,706.00 140.00,694.00 155.00,682.50 175.00,671.00 200.00,659.50 217.50,652.50 240.00,644.00 260.00,639.00 290.00,635.50 312.50,634.50 337.50,631.00 357.50,627.50 380.00,625.00 397.50,620.00 410.00,614.00 420.00,609.50 430.00,605.00 440.00,603.00 452.50,598.00 470.00,599.00 485.00,605.00 500.00,612.00 515.00,618.00 530.00,621.00 540.00,622.00 560.00,620.00 575.00,616.00 600.00,614.50 620.00,615.00 640.00,612.50 655.00,609.00 670.00,604.50 685.00,601.00 695.00,602.00 707.50,607.50 720.00,617.50 735.00,627.50 747.50,639.00 760.00,647.00 775.00,654.50 795.00,657.50 807.50,655.50 822.50,652.50 840.00,648.00 850.00,647.50 865.00,645.50 880.00,645.50 890.00,647.00 910.00,648.00 930.00,650.00 950.00,651.00 965.00,652.50 975.00,654.00 990.00,659.50 1005.00,665.50 1020.00,669.00 1040.00,671.00 1052.50,670.50 1065.00,667.50 1080.00,667.00 1090.00,669.00 1100.00,675.00 1110.00,682.50 1125.00,697.50 1140.00,714.00 1152.50,722.00 1165.00,725.00 1177.50,723.00 1195.00,717.00 1215.00,711.00 1235.00,707.50 1257.70,707.60 1262.40,708.40 1268.30,711.40 1275.40,713.70 1281.30,715.00 1287.20,717.90 1293.00,720.60 1301.30,721.70 1310.80,722.20 1317.80,721.40 1324.90,717.30 1334.30,709.20 1346.10,698.40 1358.00,686.60 1369.70,676.20 1378.00,671.90 1388.60,668.30 1395.70,670.30 1402.50,674.60" fill="none" stroke="#ff0000" stroke-width="1" stroke-dasharray="3 3" shape-rendering="crispEdges"/>
<line x1="1" y1="793.5" x2="1647" y2="793.5" stroke="#c0c0c0" stroke-width="1" stroke-dasharray="3 3"/>
<line x1="1" y1="844.5" x2="1647" y2="844.5" stroke="#c0c0c0" stroke-width="1" stroke-dasharray="3 3"/>
<line x1="1" y1="905.5" x2="1647" y2="905.5" stroke="#c0c0c0" stroke-width="1" stroke-dasharray="3 3"/>
<polyline points="-2.50,890.00 5.50,890.75 13.50,889.00 21.50,874.00 29.50,882.50 37.50,873.25 45.50,877.00 53.50,864.00 61.50,855.25 69.50,858.25 77.50,859.50 85.50,856.25 93.50,844.00 101.50,840.25 109.50,846.25 117.50,839.50 125.50,851.50 133.50,854.50 141.50,845.75 149.50,837.00 157.50,846.25 165.50,840.75 173.50,837.50 181.50,832.50 189.50,831.25 197.50,840.75 205.50,849.50 213.50,843.25 221.50,831.50 229.50,828.25 237.50,837.00 245.50,841.50 253.50,838.25 261.50,838.25 269.50,844.50 277.50,835.25 285.50,842.50 293.50,833.25 301.50,833.25 309.50,830.25 317.50,830.25 325.50,831.25 333.50,833.25 341.50,831.25 349.50,824.00 357.50,834.50 365.50,832.50 373.50,828.25 381.50,817.00 389.50,805.25 397.50,812.50 405.50,810.25 413.50,809.50 421.50,811.75 429.50,829.50 437.50,828.25 445.50,829.50 453.50,829.50 461.50,829.50 469.50,824.50 477.50,853.25 485.50,842.50 493.50,839.00 501.50,839.00 509.50,829.50 517.50,828.25 525.50,827.50 533.50,816.50 541.50,824.50 549.50,823.25 557.50,824.00 565.50,827.50 573.50,819.50 581.50,832.00 589.50,836.50 597.50,832.00 605.50,835.25 613.50,828.25 621.50,814.50 629.50,803.75 637.50,821.50 645.50,824.50 653.50,824.50 661.50,831.25 669.50,824.00 677.50,819.50 685.50,854.50 693.50,841.50 701.50,850.00 709.50,851.50 717.50,860.75 725.50,850.75 733.50,847.50 741.50,847.50 749.50,849.50 757.50,852.50 765.50,842.50 773.50,844.50 781.50,843.25 789.50,842.50 797.50,840.75 805.50,837.50 813.50,836.50 821.50,838.25 829.50,833.25 837.50,840.75 845.50,854.50 853.50,840.00 861.50,844.00 869.50,844.00 877.50,845.75 885.50,850.00 893.50,840.75 901.50,837.50 909.50,838.25 917.50,850.00 925.50,846.25 933.50,854.00 941.50,845.00 949.50,842.50 957.50,849.00 965.50,853.25 973.50,857.00 981.50,865.00 989.50,867.00 997.50,868.25 1005.50,855.75 1013.50,843.25 1021.50,842.50 1029.50,842.50 1037.50,844.50 1045.50,836.50 1053.50,844.00 1061.50,855.75 1069.50,865.00 1077.50,865.00 1085.50,878.25 1093.50,885.75 1101.50,894.00 1109.50,897.50 1117.50,860.00 1125.50,864.00 1133.50,860.00 1141.50,860.00 1149.50,862.00 1157.50,851.50 1165.50,851.50 1173.50,860.75 1181.50,866.50 1189.50,859.00 1197.50,852.50 1205.50,855.75 1213.50,864.50 1221.50,855.25 1229.50,856.50 1237.50,855.25 1245.50,862.50 1253.50,874.00 1261.50,878.00 1269.50,871.70 1277.50,870.50 1285.50,872.20 1293.50,858.40 1301.50,851.90 1309.50,838.30 1317.50,835.40 1325.50,833.30 1333.50,831.20 1341.50,836.30 1349.50,847.20 1357.50,853.70 1365.50,848.30 1373.50,855.20 1381.50,855.20 1389.50,864.30 1397.50,883.10 1405.50,883.50" fill="none" stroke="#1e90ff" stroke-width="1" shape-rendering="crispEdges"/>
<text x="4.3" y="42" font-size="9.4" fill="#000" stroke="#000" stroke-width="0.2" textLength="199.4" lengthAdjust="spacingAndGlyphs">GBPJPY-,H4&#160;&#160;151.765 151.999 151.451 151.675</text>
<text x="-6.8" y="594" font-size="9.4" fill="#000" stroke="#000" stroke-width="0.2" textLength="134" lengthAdjust="spacingAndGlyphs">MACD(12,26,9) -0.4791 -0.1688</text>
<text x="-7.0" y="770" font-size="9.4" fill="#000" stroke="#000" stroke-width="0.2" textLength="67.4" lengthAdjust="spacingAndGlyphs">RSI(14) 27.3977</text>
<rect x="1648" y="48" width="3" height="1" fill="#000"/>
<text x="1654.5" y="52" font-size="9.4" fill="#000" stroke="#000" stroke-width="0.2" textLength="32" lengthAdjust="spacingAndGlyphs">158.550</text>
<rect x="1648" y="81" width="3" height="1" fill="#000"/>
<text x="1654.5" y="85" font-size="9.4" fill="#000" stroke="#000" stroke-width="0.2" textLength="32" lengthAdjust="spacingAndGlyphs">158.070</text>
<rect x="1648" y="114" width="3" height="1" fill="#000"/>
<text x="1654.5" y="118" font-size="9.4" fill="#000" stroke="#000" stroke-width="0.2" textLength="32" lengthAdjust="spacingAndGlyphs">157.590</text>
<rect x="1648" y="147" width="3" height="1" fill="#000"/>
<text x="1654.5" y="151" font-size="9.4" fill="#000" stroke="#000" stroke-width="0.2" textLength="32" lengthAdjust="spacingAndGlyphs">157.120</text>
<rect x="1648" y="180" width="3" height="1" fill="#000"/>
<text x="1654.5" y="184" font-size="9.4" fill="#000" stroke="#000" stroke-width="0.2" textLength="32" lengthAdjust="spacingAndGlyphs">156.640</text>
<rect x="1648" y="213" width="3" height="1" fill="#000"/>
<text x="1654.5" y="217" font-size="9.4" fill="#000" stroke="#000" stroke-width="0.2" textLength="32" lengthAdjust="spacingAndGlyphs">156.160</text>
<rect x="1648" y="246" width="3" height="1" fill="#000"/>
<text x="1654.5" y="250" font-size="9.4" fill="#000" stroke="#000" stroke-width="0.2" textLength="32" lengthAdjust="spacingAndGlyphs">155.690</text>
<rect x="1648" y="279" width="3" height="1" fill="#000"/>
<text x="1654.5" y="283" font-size="9.4" fill="#000" stroke="#000" stroke-width="0.2" textLength="32" lengthAdjust="spacingAndGlyphs">155.210</text>
<rect x="1648" y="312" width="3" height="1" fill="#000"/>
<text x="1654.5" y="316" font-size="9.4" fill="#000" stroke="#000" stroke-width="0.2" textLength="32" lengthAdjust="spacingAndGlyphs">154.730</text>
<rect x="1648" y="345" width="3" height="1" fill="#000"/>
<text x="1654.5" y="349" font-size="9.4" fill="#000" stroke="#000" stroke-width="0.2" textLength="32" lengthAdjust="spacingAndGlyphs">154.250</text>
<rect x="1648" y="378" width="3" height="1" fill="#000"/>
<text x="1654.5" y="382" font-size="9.4" fill="#000" stroke="#000" stroke-width="0.2" textLength="32" lengthAdjust="spacingAndGlyphs">153.780</text>
<rect x="1648" y="411" width="3" height="1" fill="#000"/>
<text x="1654.5" y="415" font-size="9.4" fill="#000" stroke="#000" stroke-width="0.2" textLength="32" lengthAdjust="spacingAndGlyphs">153.300</text>
<rect x="1648" y="444" width="3" height="1" fill="#000"/>
<text x="1654.5" y="448" font-size="9.4" fill="#000" stroke="#000" stroke-width="0.2" textLength="32" lengthAdjust="spacingAndGlyphs">152.820</text>
<rect x="1648" y="477" width="3" height="1" fill="#000"/>
<text x="1654.5" y="481" font-size="9.4" fill="#000" stroke="#000" stroke-width="0.2" textLength="32" lengthAdjust="spacingAndGlyphs">152.350</text>
<rect x="1648" y="510" width="3" height="1" fill="#000"/>
<text x="1654.5" y="514" font-size="9.4" fill="#000" stroke="#000" stroke-width="0.2" textLength="32" lengthAdjust="spacingAndGlyphs">151.870</text>
<rect x="1648" y="543" width="3" height="1" fill="#000"/>
<text x="1654.5" y="547" font-size="9.4" fill="#000" stroke="#000" stroke-width="0.2" textLength="32" lengthAdjust="spacingAndGlyphs">151.390</text>
<rect x="1648" y="576" width="3" height="1" fill="#000"/>
<text x="1654.5" y="580" font-size="9.4" fill="#000" stroke="#000" stroke-width="0.2" textLength="32" lengthAdjust="spacingAndGlyphs">150.910</text>
<rect x="1650" y="454" width="41" height="11" fill="#ff0000"/>
<text x="1654.5" y="463" font-size="9.4" fill="#fff" stroke="#fff" stroke-width="0.15" textLength="32" lengthAdjust="spacingAndGlyphs">152.590</text>
<rect x="1650" y="478" width="41" height="11" fill="#ff0000"/>
<text x="1654.5" y="487" font-size="9.4" fill="#fff" stroke="#fff" stroke-width="0.15" textLength="32" lengthAdjust="spacingAndGlyphs">152.253</text>
<rect x="1650" y="500" width="41" height="11" fill="#32cd32"/>
<text x="1654.5" y="509" font-size="9.4" fill="#fff" stroke="#fff" stroke-width="0.15" textLength="32" lengthAdjust="spacingAndGlyphs">151.929</text>
<rect x="1650" y="519" width="41" height="11" fill="#000000"/>
<text x="1654.5" y="528" font-size="9.4" fill="#fff" stroke="#fff" stroke-width="0.15" textLength="32" lengthAdjust="spacingAndGlyphs">151.675</text>
<rect x="1650" y="544" width="41" height="11" fill="#0000ff"/>
<text x="1654.5" y="553" font-size="9.4" fill="#fff" stroke="#fff" stroke-width="0.15" textLength="32" lengthAdjust="spacingAndGlyphs">151.293</text>
<rect x="1650" y="567" width="41" height="11" fill="#0000ff"/>
<text x="1654.5" y="576" font-size="9.4" fill="#fff" stroke="#fff" stroke-width="0.15" textLength="32" lengthAdjust="spacingAndGlyphs">150.960</text>
<rect x="1648" y="583" width="3" height="1" fill="#000"/>
<rect x="1648" y="652" width="3" height="1" fill="#000"/>
<rect x="1648" y="754" width="3" height="1" fill="#000"/>
<text x="1652" y="592" font-size="9.3" fill="#000" stroke="#000" stroke-width="0.2" textLength="22.6" lengthAdjust="spacingAndGlyphs">0.485</text>
<text x="1652" y="656" font-size="9.3" fill="#000" stroke="#000" stroke-width="0.2" textLength="17.7" lengthAdjust="spacingAndGlyphs">0.00</text>
<text x="1652" y="752" font-size="9.3" fill="#000" stroke="#000" stroke-width="0.2" textLength="30.6" lengthAdjust="spacingAndGlyphs">-0.7071</text>
<rect x="1648" y="759" width="3" height="1" fill="#000"/>
<rect x="1648" y="793" width="3" height="1" fill="#000"/>
<rect x="1648" y="844" width="3" height="1" fill="#000"/>
<rect x="1648" y="905" width="3" height="1" fill="#000"/>
<rect x="1648" y="924" width="3" height="1" fill="#000"/>
<text x="1652" y="768" font-size="9.3" fill="#000" stroke="#000" stroke-width="0.2" textLength="14.8" lengthAdjust="spacingAndGlyphs">100</text>
<text x="1651.5" y="797" font-size="9.3" fill="#000" stroke="#000" stroke-width="0.2" textLength="9.4" lengthAdjust="spacingAndGlyphs">80</text>
<text x="1651.5" y="848" font-size="9.3" fill="#000" stroke="#000" stroke-width="0.2" textLength="9.4" lengthAdjust="spacingAndGlyphs">50</text>
<text x="1651.5" y="908.5" font-size="9.3" fill="#000" stroke="#000" stroke-width="0.2" textLength="9.4" lengthAdjust="spacingAndGlyphs">15</text>
<text x="1651.5" y="928" font-size="9.3" fill="#000" stroke="#000" stroke-width="0.2" textLength="4.7" lengthAdjust="spacingAndGlyphs">0</text>
<text x="-12" y="944" font-size="9.3" fill="#000" stroke="#000" stroke-width="0.2" textLength="51.2" lengthAdjust="spacingAndGlyphs">24 Jan 2022</text>
<rect x="53" y="931" width="1" height="4" fill="#000"/>
<text x="52" y="944" font-size="9.3" fill="#000" stroke="#000" stroke-width="0.2" textLength="53.8" lengthAdjust="spacingAndGlyphs">25 Jan 12:00</text>
<rect x="117" y="931" width="1" height="4" fill="#000"/>
<text x="116" y="944" font-size="9.3" fill="#000" stroke="#000" stroke-width="0.2" textLength="53.8" lengthAdjust="spacingAndGlyphs">26 Jan 20:00</text>
<rect x="181" y="931" width="1" height="4" fill="#000"/>
<text x="180" y="944" font-size="9.3" fill="#000" stroke="#000" stroke-width="0.2" textLength="53.8" lengthAdjust="spacingAndGlyphs">28 Jan 04:00</text>
<rect x="245" y="931" width="1" height="4" fill="#000"/>
<text x="244" y="944" font-size="9.3" fill="#000" stroke="#000" stroke-width="0.2" textLength="53.8" lengthAdjust="spacingAndGlyphs">31 Jan 12:00</text>
<rect x="309" y="931" width="1" height="4" fill="#000"/>
<text x="308" y="944" font-size="9.3" fill="#000" stroke="#000" stroke-width="0.2" textLength="49.6" lengthAdjust="spacingAndGlyphs">1 Feb 20:00</text>
<rect x="373" y="931" width="1" height="4" fill="#000"/>
<text x="372" y="944" font-size="9.3" fill="#000" stroke="#000" stroke-width="0.2" textLength="49.6" lengthAdjust="spacingAndGlyphs">3 Feb 04:00</text>
<rect x="437" y="931" width="1" height="4" fill="#000"/>
<text x="436" y="944" font-size="9.3" fill="#000" stroke="#000" stroke-width="0.2" textLength="49.6" lengthAdjust="spacingAndGlyphs">4 Feb 12:00</text>
<rect x="501" y="931" width="1" height="4" fill="#000"/>
<text x="500" y="944" font-size="9.3" fill="#000" stroke="#000" stroke-width="0.2" textLength="49.6" lengthAdjust="spacingAndGlyphs">7 Feb 20:00</text>
<rect x="565" y="931" width="1" height="4" fill="#000"/>
<text x="564" y="944" font-size="9.3" fill="#000" stroke="#000" stroke-width="0.2" textLength="49.6" lengthAdjust="spacingAndGlyphs">9 Feb 04:00</text>
<rect x="629" y="931" width="1" height="4" fill="#000"/>
<text x="628" y="944" font-size="9.3" fill="#000" stroke="#000" stroke-width="0.2" textLength="54.8" lengthAdjust="spacingAndGlyphs">10 Feb 12:00</text>
<rect x="693" y="931" width="1" height="4" fill="#000"/>
<text x="692" y="944" font-size="9.3" fill="#000" stroke="#000" stroke-width="0.2" textLength="54.8" lengthAdjust="spacingAndGlyphs">13 Feb 23:00</text>
<rect x="757" y="931" width="1" height="4" fill="#000"/>
<text x="756" y="944" font-size="9.3" fill="#000" stroke="#000" stroke-width="0.2" textLength="54.8" lengthAdjust="spacingAndGlyphs">15 Feb 04:00</text>
<rect x="821" y="931" width="1" height="4" fill="#000"/>
<text x="820" y="944" font-size="9.3" fill="#000" stroke="#000" stroke-width="0.2" textLength="54.8" lengthAdjust="spacingAndGlyphs">16 Feb 12:00</text>
<rect x="885" y="931" width="1" height="4" fill="#000"/>
<text x="884" y="944" font-size="9.3" fill="#000" stroke="#000" stroke-width="0.2" textLength="54.8" lengthAdjust="spacingAndGlyphs">17 Feb 20:00</text>
<rect x="949" y="931" width="1" height="4" fill="#000"/>
<text x="948" y="944" font-size="9.3" fill="#000" stroke="#000" stroke-width="0.2" textLength="54.8" lengthAdjust="spacingAndGlyphs">21 Feb 04:00</text>
<rect x="1013" y="931" width="1" height="4" fill="#000"/>
<text x="1012" y="944" font-size="9.3" fill="#000" stroke="#000" stroke-width="0.2" textLength="54.8" lengthAdjust="spacingAndGlyphs">22 Feb 12:00</text>
<rect x="1077" y="931" width="1" height="4" fill="#000"/>
<text x="1076" y="944" font-size="9.3" fill="#000" stroke="#000" stroke-width="0.2" textLength="54.8" lengthAdjust="spacingAndGlyphs">23 Feb 20:00</text>
<rect x="1141" y="931" width="1" height="4" fill="#000"/>
<text x="1140" y="944" font-size="9.3" fill="#000" stroke="#000" stroke-width="0.2" textLength="54.8" lengthAdjust="spacingAndGlyphs">25 Feb 04:00</text>
<rect x="1205" y="931" width="1" height="4" fill="#000"/>
<text x="1204" y="944" font-size="9.3" fill="#000" stroke="#000" stroke-width="0.2" textLength="54.8" lengthAdjust="spacingAndGlyphs">28 Feb 12:00</text>
<rect x="1269" y="931" width="1" height="4" fill="#000"/>
<text x="1268" y="944" font-size="9.3" fill="#000" stroke="#000" stroke-width="0.2" textLength="49.6" lengthAdjust="spacingAndGlyphs">1 Mar 20:00</text>
<rect x="1333" y="931" width="1" height="4" fill="#000"/>
<text x="1332" y="944" font-size="9.3" fill="#000" stroke="#000" stroke-width="0.2" textLength="49.6" lengthAdjust="spacingAndGlyphs">3 Mar 04:00</text>
<rect x="1397" y="931" width="1" height="4" fill="#000"/>
<text x="1396" y="944" font-size="9.3" fill="#000" stroke="#000" stroke-width="0.2" textLength="49.6" lengthAdjust="spacingAndGlyphs">4 Mar 12:00</text>
<rect x="1262.5" y="270.5" width="61" height="18" fill="#fff" stroke="#ff0000" stroke-width="1"/>
<text x="1264.5" y="286" font-size="16" fill="#ff0000" textLength="57" lengthAdjust="spacingAndGlyphs">155.213</text>
<rect x="1324" y="279" width="10" height="1" fill="#ff0000"/>
<rect x="1190.5" y="447.5" width="61" height="18" fill="#fff" stroke="#ff0000" stroke-width="1"/>
<text x="1192.5" y="463" font-size="16" fill="#ff0000" textLength="57" lengthAdjust="spacingAndGlyphs">152.648</text>
<rect x="1252" y="456" width="10" height="1" fill="#ff0000"/>
<rect x="1224.5" y="494.5" width="73" height="24" fill="#fff" stroke="#ff0000" stroke-width="1"/>
<text x="1226.5" y="515" font-size="22.3" fill="#ff0000" textLength="69" lengthAdjust="spacingAndGlyphs">151.929</text>
<rect x="1214" y="506" width="7" height="1" fill="#ff0000"/>
<rect x="1221.5" y="504.5" width="2" height="3" fill="#fff" stroke="#ff0000" stroke-width="1"/>
<rect x="1334.5" y="529.5" width="61" height="18" fill="#fff" stroke="#ff0000" stroke-width="1"/>
<text x="1336.5" y="545" font-size="16" fill="#ff0000" textLength="57" lengthAdjust="spacingAndGlyphs">151.462</text>
<rect x="1396.5" y="536.5" width="2" height="2" fill="#fff" stroke="#ff0000" stroke-width="1"/>
<rect x="1399" y="537" width="6" height="1" fill="#ff0000"/>
<line x1="1332" y1="284" x2="1412.6" y2="530.5" stroke="#ff0000" stroke-width="3.4" stroke-linecap="round"/>
<polygon points="1416,541 1408.3,531.9 1416.9,529.1" fill="#ff0000"/>
<line x1="1369" y1="654" x2="1408.4" y2="720.5" stroke="#ff0000" stroke-width="3.4" stroke-linecap="round"/>
<polygon points="1414,730 1404.5,722.8 1412.3,718.2" fill="#ff0000"/>
<line x1="1325" y1="831" x2="1391.1" y2="878.6" stroke="#ff0000" stroke-width="3.4" stroke-linecap="round"/>
<polygon points="1400,885 1388.4,882.2 1393.7,874.9" fill="#ff0000"/>
<polygon points="1410,31 1419,31 1414.5,36" fill="#c0c0c0"/>
<ellipse cx="0.5" cy="21" rx="2" ry="2" fill="#d4a020"/>
<rect x="9" y="3" width="1" height="21" fill="#a0a0a0"/><rect x="10" y="3" width="1" height="21" fill="#ffffff"/>
<path d="M19.5,6.5 h8 l3,3 v10 h-11 z" fill="#fafafa" stroke="#8a8a8a" stroke-width="1"/>
<g fill="#9a9a9a"><rect x="21" y="9" width="3" height="1"/><rect x="21" y="12" width="6" height="1"/><rect x="21" y="14" width="6" height="1"/></g>
<path d="M27,12 h4 v4 h4 v4 h-4 v4 h-4 v-4 h-4 v-4 h4 z" fill="#22c022" stroke="#0a8a0a" stroke-width="0.8"/>
<text x="38.6" y="17" font-size="13" fill="#000" textLength="64" lengthAdjust="spacingAndGlyphs">New Order</text>
<path d="M116,14 L123,7.5 L131,15 L124,21.5 Z" fill="#e0a820" stroke="#a06a10" stroke-width="1"/>
<path d="M117.5,14 L123,9 L129,14.8 L123.5,19.5 Z" fill="#f4d060"/>
<rect x="145" y="6.5" width="10" height="11" fill="#3a8ee0" stroke="#1a5ab0" stroke-width="1"/>
<rect x="147" y="9" width="6" height="1.5" fill="#cfe6ff"/><rect x="147" y="12" width="6" height="1.5" fill="#cfe6ff"/>
<path d="M144,21.5 a3,3 0 0,1 3,-4 a4,4 0 0,1 7,-0.5 a3,3 0 0,1 4,4.5 z" fill="#f4f8ff" stroke="#7a8aa8" stroke-width="1"/>
<g fill="none" stroke="#5a8ad8" stroke-width="1"><circle cx="179" cy="14" r="7.5"/><circle cx="179" cy="14" r="5"/><circle cx="179" cy="14" r="2.5"/></g>
<circle cx="179" cy="14" r="1.3" fill="#1a4ab0"/><path d="M179,14 v7 h2" stroke="#20a020" stroke-width="1.5" fill="none"/>
<path d="M199,16 L213,16 L208,22 L203,22 Z" fill="#f0d040" stroke="#b09020" stroke-width="0.8"/>
<ellipse cx="206" cy="11" rx="7.5" ry="3" fill="#5aa8e0" stroke="#2a78b0" stroke-width="0.8"/><ellipse cx="206" cy="9" rx="4" ry="3" fill="#6ab8f0" stroke="#2a78b0" stroke-width="0.8"/>
<circle cx="210.5" cy="17.5" r="4.2" fill="#dd2020"/><rect x="209" y="16" width="3" height="3" fill="#fff"/>
<text x="219" y="17" font-size="13" fill="#000" textLength="71.4" lengthAdjust="spacingAndGlyphs">AutoTrading</text>
<rect x="298" y="0" width="1" height="26" fill="#a0a0a0"/><rect x="299" y="0" width="1" height="26" fill="#ffffff"/>
<g fill="#b4b4b4"><rect x="302" y="4" width="4" height="1"/><rect x="302" y="6" width="4" height="1"/><rect x="302" y="8" width="4" height="1"/><rect x="302" y="10" width="4" height="1"/><rect x="302" y="12" width="4" height="1"/><rect x="302" y="14" width="4" height="1"/><rect x="302" y="16" width="4" height="1"/><rect x="302" y="18" width="4" height="1"/><rect x="302" y="20" width="4" height="1"/><rect x="302" y="22" width="4" height="1"/></g>
<g stroke="#505050" stroke-width="1.4" fill="none"><line x1="316" y1="8" x2="316" y2="21"/><line x1="314" y1="19" x2="328" y2="19"/></g>
<polygon points="314,10 318,10 316,7.5" fill="#505050"/>
<polygon points="326,17 326,21 328.5,19" fill="#505050"/>
<g fill="#20a020"><rect x="322.5" y="9" width="1.5" height="8.5"/><rect x="324" y="10" width="2.5" height="1.4"/><rect x="320" y="15.6" width="2.5" height="1.4"/></g>
<rect x="336" y="2" width="25" height="22" fill="#f9f9f9"/>
<rect x="336" y="2" width="25" height="1" fill="#a0a0a0"/><rect x="336" y="2" width="1" height="22" fill="#a0a0a0"/>
<g stroke="#505050" stroke-width="1.4" fill="none"><line x1="344.5" y1="9" x2="344.5" y2="21.5"/><line x1="342.5" y1="19.5" x2="355.5" y2="19.5"/></g>
<polygon points="342.5,11 346.5,11 344.5,8.5" fill="#505050"/>
<polygon points="353.5,17.5 353.5,21.5 356.0,19.5" fill="#505050"/>
<rect x="350.5" y="6" width="1.2" height="11.5" fill="#008a00"/><rect x="348.2" y="8.2" width="5.5" height="7.8" fill="#30e040" stroke="#008a00" stroke-width="1"/>
<g stroke="#505050" stroke-width="1.4" fill="none"><line x1="372.5" y1="9" x2="372.5" y2="21.5"/><line x1="370.5" y1="19.5" x2="383.5" y2="19.5"/></g>
<polygon points="370.5,11 374.5,11 372.5,8.5" fill="#505050"/>
<polygon points="381.5,17.5 381.5,21.5 384.0,19.5" fill="#505050"/>
<path d="M371,17 Q376,9 380,11 T384,15" fill="none" stroke="#20a020" stroke-width="1.3"/>
<rect x="393" y="3" width="1" height="21" fill="#a0a0a0"/><rect x="394" y="3" width="1" height="21" fill="#ffffff"/>
<line x1="410" y1="17" x2="415.5" y2="22" stroke="#d8b020" stroke-width="3" stroke-linecap="round" transform="translate(0,0)"/>
<circle cx="407" cy="12.5" r="5.2" fill="#d8ecff" stroke="#3a7ad8" stroke-width="1.4"/>
<rect x="404" y="11.8" width="6" height="1.6" fill="#2a6ad0"/>
<rect x="406.2" y="9.6" width="1.6" height="6" fill="#2a6ad0"/>
<line x1="438" y1="45" x2="443.5" y2="50" stroke="#d8b020" stroke-width="3" stroke-linecap="round" transform="translate(0,-28)"/>
<circle cx="435" cy="12.5" r="5.2" fill="#d8ecff" stroke="#3a7ad8" stroke-width="1.4"/>
<rect x="432" y="11.8" width="6" height="1.6" fill="#2a6ad0"/>
<rect x="457.5" y="6" width="8" height="7.5" fill="#30a030"/><rect x="466" y="6" width="8" height="7.5" fill="#2050c8"/><rect x="457.5" y="14.5" width="8" height="7.5" fill="#2050c8"/><rect x="466" y="14.5" width="8" height="7.5" fill="#30a030"/>
<g fill="#fff"><rect x="459" y="9" width="5" height="3"/><rect x="467.5" y="9" width="5" height="3"/><rect x="459" y="17.5" width="5" height="3"/><rect x="467.5" y="17.5" width="5" height="3"/></g>
<rect x="483" y="3" width="1" height="21" fill="#a0a0a0"/><rect x="484" y="3" width="1" height="21" fill="#ffffff"/>
<rect x="488" y="2" width="25" height="22" fill="#f9f9f9"/>
<rect x="488" y="2" width="25" height="1" fill="#a0a0a0"/><rect x="488" y="2" width="1" height="22" fill="#a0a0a0"/>
<g stroke="#505050" stroke-width="1.4" fill="none"><line x1="496.5" y1="9" x2="496.5" y2="21.5"/><line x1="494.5" y1="19.5" x2="507.5" y2="19.5"/></g>
<polygon points="494.5,11 498.5,11 496.5,8.5" fill="#505050"/>
<polygon points="505.5,17.5 505.5,21.5 508.0,19.5" fill="#505050"/>
<polygon points="501,10 501,16.5 505,13.25" fill="#20b020"/>
<rect x="516" y="2" width="25" height="22" fill="#f9f9f9"/>
<rect x="516" y="2" width="25" height="1" fill="#a0a0a0"/><rect x="516" y="2" width="1" height="22" fill="#a0a0a0"/>
<g stroke="#505050" stroke-width="1.4" fill="none"><line x1="524.5" y1="9" x2="524.5" y2="21.5"/><line x1="522.5" y1="19.5" x2="535.5" y2="19.5"/></g>
<polygon points="522.5,11 526.5,11 524.5,8.5" fill="#505050"/>
<polygon points="533.5,17.5 533.5,21.5 536.0,19.5" fill="#505050"/>
<rect x="530.5" y="8" width="1.2" height="11" fill="#2a6ad0"/><path d="M537,13 h-4 m2,-2 l-2,2 l2,2" stroke="#e05010" stroke-width="1.4" fill="none"/>
<rect x="545" y="3" width="1" height="21" fill="#a0a0a0"/><rect x="546" y="3" width="1" height="21" fill="#ffffff"/>
<path d="M555.5,6.5 h7 l3,3 v10 h-10 z" fill="#fafafa" stroke="#8a8a8a" stroke-width="1"/>
<path d="M562,13 h3.5 v3.5 h3.5 v3.5 h-3.5 v3.5 h-3.5 v-3.5 h-3.5 v-3.5 h3.5 z" fill="#22c022" stroke="#0a8a0a" stroke-width="0.8"/>
<polygon points="577,13 583,13 580,16" fill="#000"/>
<circle cx="601" cy="14" r="8" fill="#1f5fc8"/><circle cx="601" cy="14" r="5.6" fill="#eef4ff"/><path d="M600.5,10.5 v3.5 h2.5" stroke="#333" stroke-width="1" fill="none"/>
<polygon points="616,13 622,13 619,16" fill="#000"/>
<rect x="632.5" y="7.5" width="15" height="13" fill="#f4f8ff" stroke="#3a6ab8" stroke-width="1"/><rect x="633" y="8" width="14" height="2" fill="#5a8ad8"/>
<path d="M634,14 l3,-1 l3,0.5 l3,-1.5 l3,0" stroke="#b02010" fill="none" stroke-width="1"/><path d="M634,18.5 l3,-1 l3,0.5 l3,-1.5 l3,0.5" stroke="#20a020" fill="none" stroke-width="1"/>
<polygon points="655,13 661,13 658,16" fill="#000"/>
<rect x="666" y="0" width="1" height="26" fill="#a0a0a0"/><rect x="667" y="0" width="1" height="26" fill="#ffffff"/>
<g fill="#b4b4b4"><rect x="670" y="4" width="4" height="1"/><rect x="670" y="6" width="4" height="1"/><rect x="670" y="8" width="4" height="1"/><rect x="670" y="10" width="4" height="1"/><rect x="670" y="12" width="4" height="1"/><rect x="670" y="14" width="4" height="1"/><rect x="670" y="16" width="4" height="1"/><rect x="670" y="18" width="4" height="1"/><rect x="670" y="20" width="4" height="1"/><rect x="670" y="22" width="4" height="1"/></g>
<rect x="676" y="2" width="25" height="22" fill="#f9f9f9"/>
<rect x="676" y="2" width="25" height="1" fill="#a0a0a0"/><rect x="676" y="2" width="1" height="22" fill="#a0a0a0"/>
<path d="M684,7 L684,19 L687,16 L689.5,21 L691.5,20 L689,15 L693,15 Z" fill="#404040"/>
<g fill="#505050"><rect x="716" y="7" width="1.2" height="6"/><rect x="716" y="16" width="1.2" height="6"/><rect x="709" y="14" width="6" height="1.2"/><rect x="718" y="14" width="6" height="1.2"/></g>
<rect x="733" y="3" width="1" height="21" fill="#a0a0a0"/><rect x="734" y="3" width="1" height="21" fill="#ffffff"/>
<g fill="#505050"><rect x="750" y="8" width="1.4" height="13"/><rect x="773" y="14" width="12" height="1.4"/></g>
<line x1="801" y1="21" x2="813" y2="8.5" stroke="#505050" stroke-width="1.3"/>
<g stroke="#505050" stroke-width="1.2" fill="none"><line x1="827" y1="16" x2="836" y2="7"/><line x1="830" y1="20.5" x2="841" y2="9.5"/><line x1="829.5" y1="14" x2="832" y2="17"/><line x1="832.5" y1="11" x2="835" y2="14"/><line x1="835.5" y1="8.5" x2="838" y2="11"/></g>
<text x="837.5" y="22.6" font-size="7.5" fill="#404040" font-weight="bold">E</text>
<g fill="#606060"><rect x="856" y="7" width="1" height="1"/><rect x="858" y="7" width="1" height="1"/><rect x="860" y="7" width="1" height="1"/><rect x="862" y="7" width="1" height="1"/><rect x="864" y="7" width="1" height="1"/><rect x="866" y="7" width="1" height="1"/><rect x="868" y="7" width="1" height="1"/><rect x="856" y="10" width="1" height="1"/><rect x="858" y="10" width="1" height="1"/><rect x="860" y="10" width="1" height="1"/><rect x="862" y="10" width="1" height="1"/><rect x="864" y="10" width="1" height="1"/><rect x="866" y="10" width="1" height="1"/><rect x="868" y="10" width="1" height="1"/><rect x="856" y="13" width="1" height="1"/><rect x="858" y="13" width="1" height="1"/><rect x="860" y="13" width="1" height="1"/><rect x="862" y="13" width="1" height="1"/><rect x="864" y="13" width="1" height="1"/><rect x="866" y="13" width="1" height="1"/><rect x="868" y="13" width="1" height="1"/><rect x="856" y="16" width="1" height="1"/><rect x="858" y="16" width="1" height="1"/><rect x="860" y="16" width="1" height="1"/><rect x="862" y="16" width="1" height="1"/><rect x="864" y="16" width="1" height="1"/></g>
<text x="866" y="22.6" font-size="7.5" fill="#404040" font-weight="bold">F</text>
<text x="886" y="19" font-size="12" fill="#555" textLength="8.5" lengthAdjust="spacingAndGlyphs" font-weight="bold">A</text>
<rect x="912.5" y="7.5" width="12" height="13" fill="none" stroke="#707070" stroke-width="1" stroke-dasharray="1 1"/>
<text x="914.5" y="19" font-size="12" fill="#505050" textLength="8" lengthAdjust="spacingAndGlyphs" font-weight="bold">T</text>
<polygon points="940,11 943,8 946,11 943,14" fill="#404040"/><polygon points="947,17 950,14 953.5,17 950,20.5" fill="#404040"/><path d="M943,15 l2,2 l4,-5" stroke="#404040" stroke-width="1.2" fill="none"/>
<polygon points="961,13 967,13 964,16" fill="#000"/>
<rect x="972" y="0" width="1" height="26" fill="#a0a0a0"/><rect x="973" y="0" width="1" height="26" fill="#ffffff"/>
<g fill="#b4b4b4"><rect x="976" y="4" width="4" height="1"/><rect x="976" y="6" width="4" height="1"/><rect x="976" y="8" width="4" height="1"/><rect x="976" y="10" width="4" height="1"/><rect x="976" y="12" width="4" height="1"/><rect x="976" y="14" width="4" height="1"/><rect x="976" y="16" width="4" height="1"/><rect x="976" y="18" width="4" height="1"/><rect x="976" y="20" width="4" height="1"/><rect x="976" y="22" width="4" height="1"/></g>
<text x="987.4" y="18.2" font-size="10" fill="#3a3a3a" textLength="13" lengthAdjust="spacingAndGlyphs">M1</text>
<text x="1015.7" y="18.2" font-size="10" fill="#3a3a3a" textLength="12.3" lengthAdjust="spacingAndGlyphs">M5</text>
<text x="1041.8" y="18.2" font-size="10" fill="#3a3a3a" textLength="17.2" lengthAdjust="spacingAndGlyphs">M15</text>
<text x="1069.6" y="18.2" font-size="10" fill="#3a3a3a" textLength="17.4" lengthAdjust="spacingAndGlyphs">M30</text>
<text x="1100.6" y="18.2" font-size="10" fill="#3a3a3a" textLength="11.4" lengthAdjust="spacingAndGlyphs">H1</text>
<rect x="1122" y="2" width="25" height="22" fill="#f9f9f9"/>
<rect x="1122" y="2" width="25" height="1" fill="#a0a0a0"/><rect x="1122" y="2" width="1" height="22" fill="#a0a0a0"/>
<text x="1127.6" y="18.2" font-size="10" fill="#3a3a3a" textLength="12.4" lengthAdjust="spacingAndGlyphs">H4</text>
<text x="1156.5" y="18.2" font-size="10" fill="#3a3a3a" textLength="11.5" lengthAdjust="spacingAndGlyphs">D1</text>
<text x="1184" y="18.2" font-size="10" fill="#3a3a3a" textLength="14.4" lengthAdjust="spacingAndGlyphs">W1</text>
<text x="1210.5" y="18.2" font-size="10" fill="#3a3a3a" textLength="14.9" lengthAdjust="spacingAndGlyphs">MN</text>
<rect x="1233" y="0" width="1" height="26" fill="#a0a0a0"/><rect x="1234" y="0" width="1" height="26" fill="#ffffff"/>
<circle cx="1650.5" cy="11.3" r="3.6" fill="#f4f6ff" stroke="#2050d0" stroke-width="1.6"/><line x1="1648" y1="14" x2="1644" y2="18.5" stroke="#2050d0" stroke-width="2.2" stroke-linecap="round"/>
<ellipse cx="1672.5" cy="16" rx="5.5" ry="4.8" fill="#e4e6ee" stroke="#a8a8a8" stroke-width="1"/><path d="M1670,20 l-1.5,2.5 l3.5,-2" fill="#a0a0a0"/>
<circle cx="1681.4" cy="11.3" r="8.2" fill="#e03018"/>
<text x="1681.4" y="15.6" font-size="12" fill="#fff" text-anchor="middle" font-family="Liberation Serif">1</text>
<defs><linearGradient id="gs" x1="0" y1="0" x2="0" y2="1"><stop offset="0" stop-color="#f75454"/><stop offset="1" stop-color="#d92a2a"/></linearGradient><linearGradient id="gp" x1="0" y1="0" x2="0" y2="1"><stop offset="0" stop-color="#dc2a2a"/><stop offset="1" stop-color="#b30606"/></linearGradient><linearGradient id="gps" gradientUnits="userSpaceOnUse" x1="0" y1="74" x2="0" y2="106"><stop offset="0" stop-color="#dc2a2a"/><stop offset="1" stop-color="#b30606"/></linearGradient><linearGradient id="gb" x1="0" y1="0" x2="0" y2="1"><stop offset="0" stop-color="#f2f2f2"/><stop offset="1" stop-color="#d2d2d2"/></linearGradient></defs>
<path d="M0,50 H44 V74 H159 V50 H211 V107 H0 Z" fill="#b00000"/>
<rect x="0" y="51" width="43" height="23" fill="url(#gs)"/>
<rect x="160" y="51" width="50" height="23" fill="url(#gs)"/>
<rect x="0" y="74" width="101" height="32" fill="url(#gp)"/>
<rect x="103" y="74" width="107" height="32" fill="url(#gp)"/>
<rect x="101" y="74" width="2" height="33" fill="#ffffff"/>
<rect x="0" y="73" width="40" height="1" fill="#9a0000"/><rect x="163" y="73" width="44" height="1" fill="#9a0000"/>
<text x="4.5" y="66.3" font-size="12.5" fill="#fff" textLength="25.5" lengthAdjust="spacingAndGlyphs">SELL</text>
<text x="172.8" y="66.3" font-size="12.5" fill="#fff" textLength="22.7" lengthAdjust="spacingAndGlyphs">BUY</text>
<rect x="46.5" y="50.5" width="110" height="21" fill="#fff" stroke="#a9a9a9" stroke-width="1"/>
<rect x="47" y="51" width="20" height="20" fill="url(#gb)"/><rect x="67" y="51" width="1" height="20" fill="#a9a9a9"/>
<rect x="136" y="51" width="20" height="20" fill="url(#gb)"/><rect x="135" y="51" width="1" height="20" fill="#a9a9a9"/>
<polygon points="54,59 59.5,59 56.75,62" fill="#3050b8"/><polygon points="143,62 148.5,62 145.75,59" fill="#3050b8"/>
<text x="108.7" y="64.9" font-size="12" fill="#000" textLength="23" lengthAdjust="spacingAndGlyphs">1.00</text>
<text x="15.3" y="101.8" font-size="12" fill="#fff" textLength="20.6" lengthAdjust="spacingAndGlyphs" font-weight="bold">151</text>
<text x="39.6" y="102.4" font-size="35.2" fill="#fff" textLength="36" lengthAdjust="spacingAndGlyphs" stroke="url(#gps)" stroke-width="0.55">67</text>
<text x="79.4" y="85.8" font-size="12" fill="#fff" textLength="6" lengthAdjust="spacingAndGlyphs" font-weight="bold">5</text>
<text x="125.4" y="101.8" font-size="12" fill="#fff" textLength="20.2" lengthAdjust="spacingAndGlyphs" font-weight="bold">151</text>
<text x="150.6" y="102.4" font-size="35.2" fill="#fff" textLength="34.5" lengthAdjust="spacingAndGlyphs" stroke="url(#gps)" stroke-width="0.55">71</text>
<text x="189.9" y="85.8" font-size="12" fill="#fff" textLength="6.6" lengthAdjust="spacingAndGlyphs" font-weight="bold">7</text>
</svg>
</body></html>
